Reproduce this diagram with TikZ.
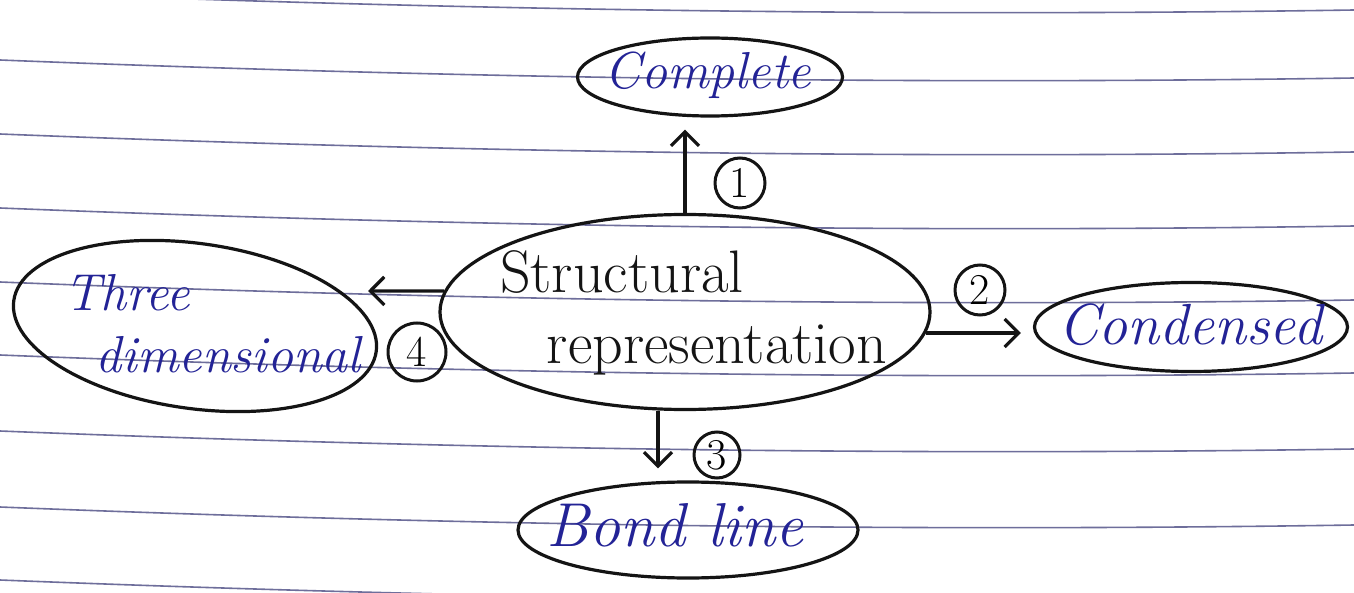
\documentclass[tikz,border=0pt]{standalone}
\usetikzlibrary{shapes.geometric,arrows.meta}
\definecolor{ink}{RGB}{35,35,150}
\definecolor{rulecol}{RGB}{110,110,155}
\definecolor{pen}{RGB}{20,20,20}
\tikzset{
 ell/.style={ellipse, draw=pen, line width=3.2pt, inner sep=0pt},
 bluetxt/.style={text=ink, inner sep=0pt, font=\fontsize{52}{60}\selectfont\itshape},
 blacktxt/.style={text=pen, inner sep=0pt, font=\fontsize{60}{66}\selectfont},
 num/.style={circle, draw=pen, line width=3pt, minimum size=50pt, inner sep=0pt, font=\fontsize{44}{48}\selectfont},
 arr/.style={draw=pen, line width=3.2pt, -{Straight Barb[length=14pt,width=28pt]}},
 ruled/.style={draw=rulecol, line width=1.6pt}
}
\begin{document}
\begin{tikzpicture}[x=1pt,y=-1pt]
\useasboundingbox (0,0) rectangle (1354,593);
\clip (0,0) rectangle (1354,593);
\fill[white] (0,0) rectangle (1354,593);
\foreach \yy in {-8,60,134,208,282,355,431,507,580}
  \draw[ruled] (0,\yy) .. controls (450,\yy+18) and (900,\yy+25) .. (1354,\yy+18);

% nodes
\node[ell, minimum width=265pt, minimum height=78pt] (comp) at (710,77) {};
\node[bluetxt] (compt) at (708,75) {Complete};

\node[ell, minimum width=490pt, minimum height=195pt] (s) at (685,312) {};
\node[blacktxt] (s1) at (622,272) {Structural};
\node[blacktxt] (s2) at (717,350) {representation};

\node[ell, minimum width=313pt, minimum height=89pt] (cond) at (1191,327) {};
\node[bluetxt, font=\fontsize{58}{62}\selectfont\itshape] (condt) at (1190,325) {Condensed};

\node[ell, minimum width=340pt, minimum height=96pt] (bond) at (688,530) {};
\node[bluetxt, font=\fontsize{62}{66}\selectfont\itshape] (bondt) at (675,525) {Bond line};

\node[ell, minimum width=366pt, minimum height=165pt, rotate=-8] (three) at (195,326) {};
\node[bluetxt] (three1) at (127,293) {Three};
\node[bluetxt] (three2) at (228,355) {dimensional};

\node[num] (n1) at (740,183) {1};
\node[num] (n2) at (980,290) {2};
\node[num, minimum size=46pt] (n3) at (717,455) {3};
\node[num, minimum size=58pt] (n4) at (417,352) {4};

% connectors
\coordinate (tip4) at (368,291);
\draw[arr, shorten >=12pt] (s.north) -- (s.north |- comp.south);
\draw[arr, shorten >=12pt] (s.-5) -- (s.-5 -| cond.west);
\draw[arr, shorten >=12pt] ([xshift=-27pt]s.south) -- ([xshift=-27pt]s.south |- bond.north);
\draw[arr] (s.175) -- (tip4);
\end{tikzpicture}
\end{document}
